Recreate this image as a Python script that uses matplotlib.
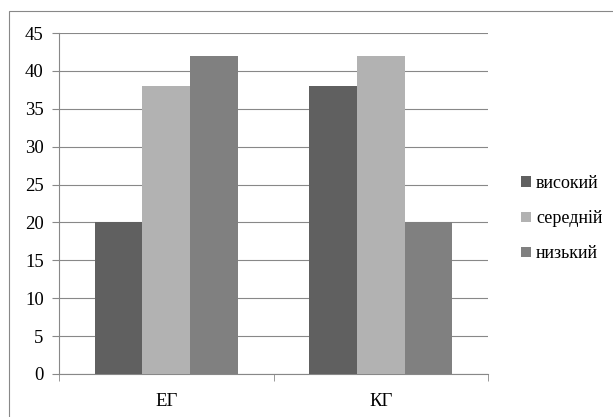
import matplotlib.pyplot as plt
from matplotlib.patches import Rectangle
import numpy as np

plt.rcParams['font.family'] = ['Liberation Serif', 'DejaVu Serif']

groups = ['ЕГ', 'КГ']
series = ['високий', 'середній', 'низький']
values = [[20, 38], [38, 42], [42, 20]]
colors = ['#606060', '#b2b2b2', '#808080']

fig = plt.figure(figsize=(6.13, 4.17), dpi=100)
# outer frame: only its top and left edges fall inside the picture
fig.patches.append(Rectangle((9 / 613, -0.1), 1.0, 1.1 - 11 / 417,
                             transform=fig.transFigure, fill=False,
                             edgecolor='#888888', linewidth=0.8))

ax = fig.add_axes([59 / 613, 1 - 374 / 417, 429 / 613, 341 / 417])

x = np.arange(len(groups))
w = 0.222
for i, (name, vals) in enumerate(zip(series, values)):
    ax.bar(x + (i - 1) * w, vals, w, color=colors[i], label=name, zorder=3)

ax.set_xlim(-0.5, 1.5)
ax.set_ylim(0, 45)
ax.set_yticks(range(0, 46, 5))
ax.set_xticks(x)
ax.set_xticklabels(groups)
ax.set_xticks([-0.5, 0.5, 1.5], minor=True)
ax.tick_params(axis='x', which='major', length=0, pad=14)
ax.tick_params(axis='x', which='minor', length=5, color='#888888')
ax.tick_params(axis='y', length=5, color='#888888', pad=6)
ax.tick_params(labelsize=13.5)

ax.grid(axis='y', color='#888888', linewidth=0.8, zorder=0)
for s in ['top', 'right']:
    ax.spines[s].set_visible(False)
for s in ['left', 'bottom']:
    ax.spines[s].set_color('#888888')

ax.legend(loc='center left', bbox_to_anchor=(1.047, 0.455), frameon=False,
          fontsize=13, handlelength=0.55, handleheight=0.55, handletextpad=0.3,
          labelspacing=1.0, borderaxespad=0.3)

fig.savefig('out.png', dpi=100)
